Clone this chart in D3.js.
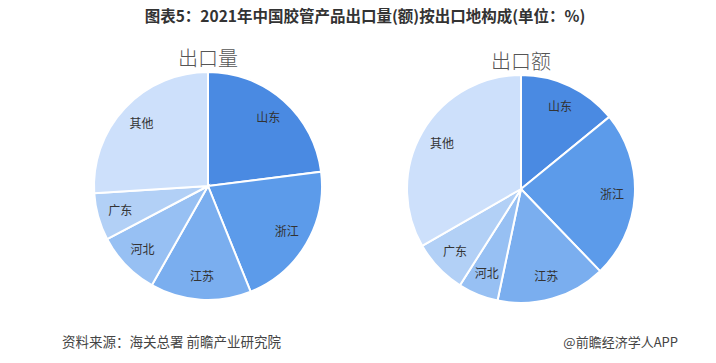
<!DOCTYPE html>
<html>
<head>
<meta charset="utf-8">
<script src="https://cdn.jsdelivr.net/npm/d3@7"></script>
<style>
  body { margin: 0; background: #fff; }
  svg { display: block; font-family: "Noto Sans CJK SC", "Noto Sans", sans-serif; }
</style>
</head>
<body>
<svg id="chart" width="716" height="363"></svg>
<script>
// regions, in drawing order clockwise from 12 o'clock
const regions = ['山东', '浙江', '江苏', '河北', '广东', '其他'];
const volumeShare = [23.0, 20.9, 14.3, 9.1, 6.7, 26.0];   // 出口量
const valueShare = [14.1, 23.7, 15.5, 5.7, 7.7, 33.3];    // 出口额
const sliceColors = ['#4a8ae2', '#5c9bea', '#7aaeef', '#97c0f3', '#b2d0f6', '#cde0fb'];

const svg = d3.select('#chart');

svg.append('text')
  .attr('x', 365)
  .attr('y', 22)
  .attr('text-anchor', 'middle')
  .attr('font-size', 15.5)
  .attr('font-weight', 'bold')
  .attr('fill', '#333')
  .text('图表5：2021年中国胶管产品出口量(额)按出口地构成(单位：%)');

const color = d3.scaleOrdinal().domain(regions).range(sliceColors);

const drawPie = (values, cx, cy, r, title) => {
  const g = svg.append('g').attr('transform', `translate(${cx},${cy})`);

  const pie = d3.pie().sort(null).value(d => d.v);
  const arcs = pie(regions.map((k, i) => ({ k, v: values[i] })));
  const arc = d3.arc().innerRadius(0).outerRadius(r);
  const labelArc = d3.arc().innerRadius(r * 0.8).outerRadius(r * 0.8);

  g.selectAll('path')
    .data(arcs)
    .enter()
    .append('path')
    .attr('d', arc)
    .attr('fill', d => color(d.data.k))
    .attr('stroke', '#fff')
    .attr('stroke-width', 2);

  g.selectAll('text.lbl')
    .data(arcs)
    .enter()
    .append('text')
    .attr('class', 'lbl')
    .attr('transform', d => `translate(${labelArc.centroid(d)})`)
    .attr('text-anchor', 'middle')
    .attr('dy', '0.35em')
    .attr('font-size', 12)
    .attr('fill', '#333')
    .text(d => d.data.k);

  svg.append('text')
    .attr('x', cx)
    .attr('y', cy - r - 6)
    .attr('text-anchor', 'middle')
    .attr('font-size', 20)
    .attr('font-weight', 300)
    .attr('fill', '#555')
    .text(title);
};

drawPie(volumeShare, 208, 186, 114, '出口量');
drawPie(valueShare, 521, 189, 114, '出口额');

// footer
svg.append('text')
  .attr('x', 62)
  .attr('y', 347)
  .attr('font-size', 13.5)
  .attr('fill', '#444')
  .text('资料来源：海关总署 前瞻产业研究院');

svg.append('text')
  .attr('x', 678)
  .attr('y', 347)
  .attr('text-anchor', 'end')
  .attr('font-size', 13)
  .attr('fill', '#444')
  .text('@前瞻经济学人APP');
</script>
</body>
</html>
